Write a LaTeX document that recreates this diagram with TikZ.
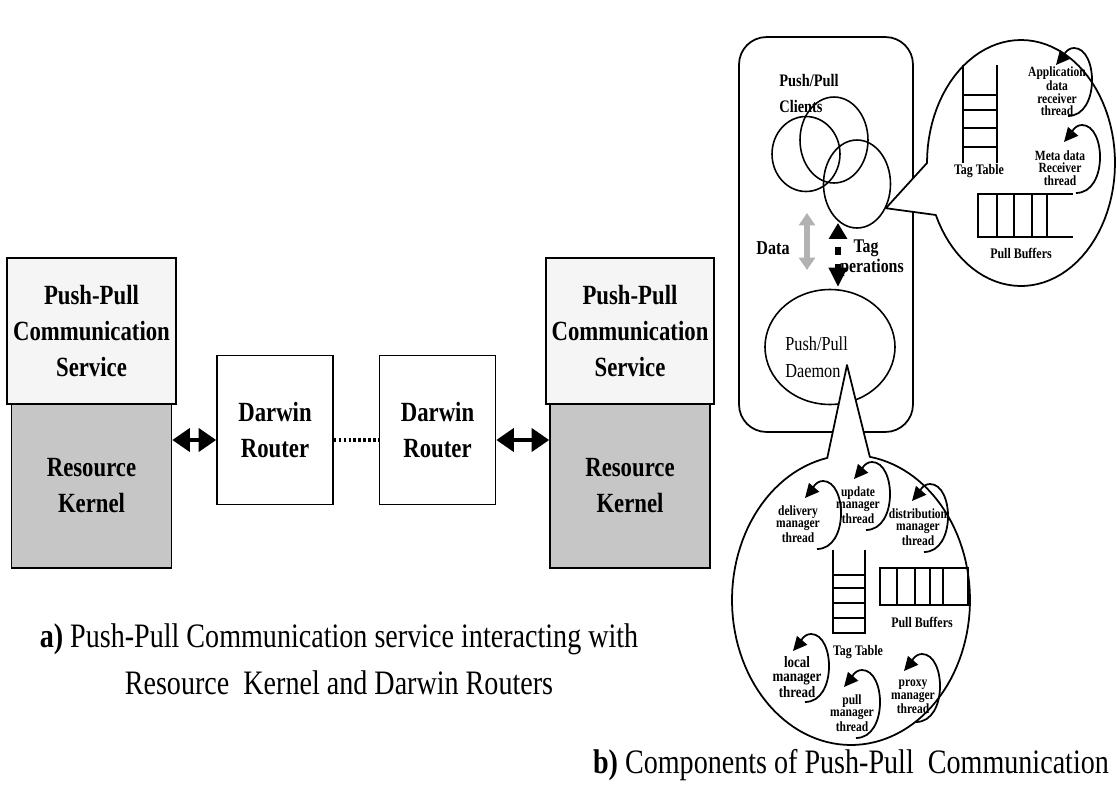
\documentclass[tikz,border=0pt]{standalone}
\usepackage{fontspec}
\setmainfont[FakeStretch=0.82]{Liberation Serif}
\usetikzlibrary{shapes.geometric,arrows.meta}

% loop arrow drawn round a thread label: #1 node, #2 x offset
\newcommand{\threadloop}[2]{%
  \draw[loop arrow] ([shift={(#2+8,25)}]#1.center)
    .. controls +(32,0) and +(24,0) .. ([shift={(#2+14,-43)}]#1.center)
    .. controls +(-8,0) and +(6,-7) .. ([shift={(#2-4,-26)}]#1.center);}

\begin{document}
\begin{tikzpicture}[x=0.02cm,y=-0.02cm,
  svc/.style={draw,line width=0.9pt,fill=gray!8,minimum width=3.2cm,minimum height=2.92cm,
    align=center,font=\bfseries\fontsize{15.8}{20.5}\selectfont},
  krn/.style={svc,fill=gray!45,minimum height=3.28cm},
  rtr/.style={draw,line width=0.9pt,minimum width=2.32cm,minimum height=2.98cm,
    align=center,font=\bfseries\fontsize{15.8}{20.5}\selectfont},
  dbl/.style={line width=2.8pt,{Triangle[length=10pt,width=13pt]}-{Triangle[length=10pt,width=13pt]}},
  dotlink/.style={line width=2.4pt,dash pattern=on 1.4pt off 1.4pt},
  client/.style={draw,ellipse,line width=0.9pt,inner sep=0pt},
  bubble/.style={draw,fill=white,line width=1pt,line join=round},
  loop arrow/.style={line width=1pt,-{Triangle[length=8pt,width=7.5pt]}},
  thread/.style={align=center,inner sep=0pt,font=\bfseries\fontsize{8}{7}\selectfont},
  lbl/.style={inner sep=0pt,font=\bfseries\fontsize{8.3}{10}\selectfont},
  caption/.style={align=center,font=\fontsize{19.5}{27}\selectfont}]
  \useasboundingbox (0,0) rectangle (1117,788);

  % a) service stacks and routers
  \node[svc] (svc1) at (91.5,331) {Push-Pull\\Communication\\Service};
  \node[krn] (krn1) at (91.5,486) {Resource\\Kernel};
  \node[svc] (svc2) at (630,331) {Push-Pull\\Communication\\Service};
  \node[krn] (krn2) at (630,486) {Resource\\Kernel};
  \node[rtr] (rtr1) at (275,430) {Darwin\\Router};
  \node[rtr] (rtr2) at (437.5,430) {Darwin\\Router};
  \coordinate (linky) at (0,440);
  \draw[dbl] (krn1.east |- linky) -- (rtr1.west |- linky);
  \draw[dotlink] (rtr1.east |- linky) -- (rtr2.west |- linky);
  \draw[dbl] (rtr2.east |- linky) -- (krn2.west |- linky);

  % b) host with clients and daemon
  \node[draw,line width=1pt,rounded corners=0.55cm,minimum width=3.48cm,minimum height=7.9cm] (host) at (826,234.5) {};
  \node[client,minimum width=1.36cm,minimum height=1.5cm] (c1) at (806,154) {};
  \node[client,minimum width=1.36cm,minimum height=1.72cm] (c2) at (834,140) {};
  \node[client,minimum width=1.34cm,minimum height=1.76cm] (c3) at (857,184) {};
  \node[inner sep=0pt,align=left,anchor=west,font=\bfseries\fontsize{10}{14.8}\selectfont] (cltxt) at (779,93) {Push/Pull\\Clients};
  \node[draw,ellipse,line width=0.9pt,minimum width=2.6cm,minimum height=2.3cm] (dmn) at (830,347) {};
  \node[inner sep=0pt,align=left,anchor=west,font=\fontsize{11.3}{15.4}\selectfont] (dmntxt) at (785,357) {Push/Pull\\Daemon};

  \coordinate (d1) at (807,213);
  \coordinate (d2) at (807,270);
  \draw[line width=3.4pt,draw=gray!60,{Triangle[length=7pt,width=9pt]}-{Triangle[length=7pt,width=9pt]}] (d1) -- (d2);
  \node[inner sep=0pt,font=\bfseries\fontsize{11.2}{12}\selectfont] (dtxt) at (773,248) {Data};
  \coordinate (t1) at (838,223);
  \coordinate (t2) at (838,287);
  \draw[line width=3.5pt,dash pattern=on 5pt off 5pt,dash phase=5pt,
    {Triangle[length=9pt,width=10pt]}-{Triangle[length=11pt,width=10pt]}] (t1) -- (t2);
  \node[inner sep=0pt,font=\bfseries\fontsize{11}{12}\selectfont] (tagtxt) at (866,248) {Tag};
  \node[inner sep=0pt,font=\bfseries\fontsize{11}{12}\selectfont] (optxt) at (872,268) {perations};

  % client bubble
  \draw[bubble] (c3.-40) -- plot[domain=180:-155,samples=90] ({1021+94*cos(\x)},{163-123*sin(\x)}) -- cycle;
  \draw[line width=0.8pt] (963,65) -- (963,163) (997,65) -- (997,163);
  \foreach \y in {95,110,128,147} \draw[line width=0.8pt] (963,\y) -- (997,\y);
  \node[lbl] (ttab1) at (979,171) {Tag Table};
  \draw[line width=0.8pt] (1073,194) -- (978,194) -- (978,237) -- (1073,237);
  \foreach \x in {997,1014,1032,1047} \draw[line width=0.8pt] (\x,194) -- (\x,237);
  \node[lbl] (pbuf1) at (1021,253) {Pull Buffers};
  \node[thread] (app) at (1057,91) {Application\\data\\receiver\\thread};
  \node[thread] (meta) at (1060,168) {Meta data\\Receiver\\thread};
  \threadloop{app}{3}
  \threadloop{meta}{8}

  % daemon bubble
  \coordinate (dtip) at (847,365);
  \draw[bubble] (dtip) -- plot[domain=101.5:440.9,samples=120] ({851+119*cos(\x)},{600-145*sin(\x)}) -- cycle;
  \draw[line width=0.8pt] (833,550) -- (833,633) -- (865,633) -- (865,550);
  \foreach \y in {575,588,603,618} \draw[line width=0.8pt] (833,\y) -- (865,\y);
  \node[lbl] (ttab2) at (858,652) {Tag Table};
  \draw[line width=0.8pt] (880,568) rectangle (968,605);
  \foreach \x in {897,915,930,943} \draw[line width=0.8pt] (\x,568) -- (\x,605);
  \node[lbl] (pbuf2) at (922,622) {Pull Buffers};
  \node[thread] (dlv) at (798,524) {delivery\\manager\\thread};
  \node[thread] (upd) at (858,505) {update\\manager\\thread};
  \node[thread] (dst) at (918,527) {distribution\\manager\\thread};
  \node[thread,font=\bfseries\fontsize{9}{8}\selectfont] (lcl) at (797,677) {local\\manager\\thread};
  \node[thread] (pll) at (852,713) {pull\\manager\\thread};
  \node[thread] (prx) at (913,697) {proxy\\manager\\thread};
  \threadloop{dlv}{11}
  \threadloop{upd}{0}
  \threadloop{dst}{-2}
  \threadloop{lcl}{0}
  \threadloop{pll}{-4}
  \threadloop{prx}{-5}

  % captions
  \node[caption] (capa) at (339,659) {\textbf{a)} Push-Pull Communication service interacting with\\Resource\ \ Kernel and Darwin Routers};
  \node[caption] (capb) at (851,765) {\textbf{b)} Components of Push-Pull\ \ Communication};
\end{tikzpicture}
\end{document}
